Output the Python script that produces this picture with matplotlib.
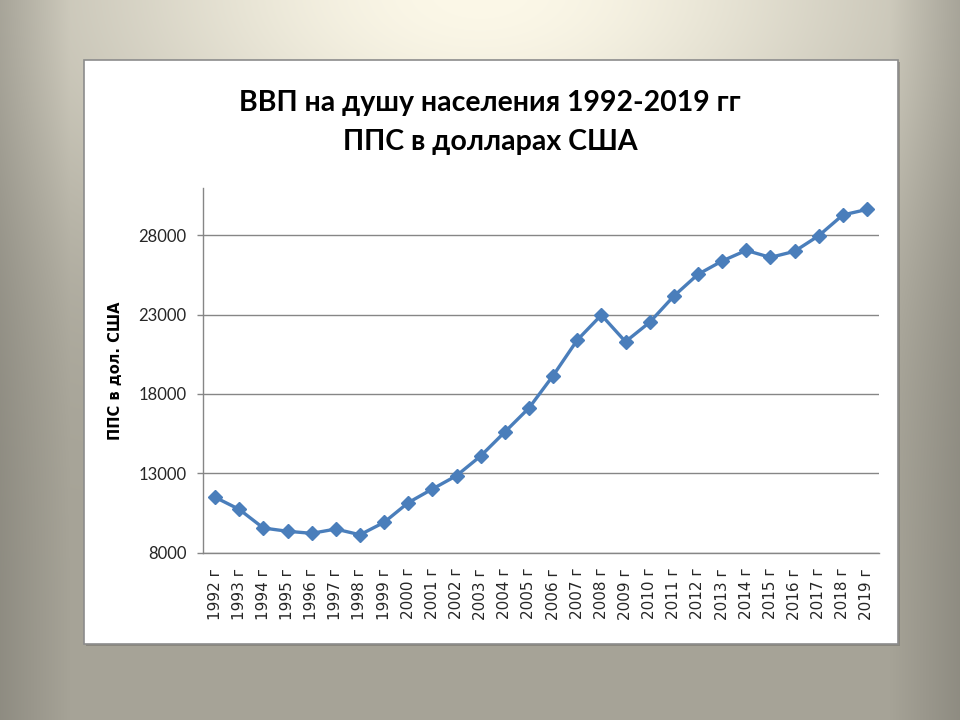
import numpy as np
import matplotlib
matplotlib.use('Agg')
import matplotlib.pyplot as plt
from matplotlib.patches import Rectangle

years = [f'{y} г' for y in range(1992, 2020)]
gdp = [11490, 10730, 9555, 9350, 9220, 9490, 9130, 9910, 11150, 12010,
       12850, 14090, 15600, 17110, 19150, 21390, 22970, 21290, 22510, 24160,
       25530, 26370, 27040, 26600, 26980, 27960, 29270, 29620]
yticks = [8000, 13000, 18000, 23000, 28000]

W, H = 960, 720
fig = plt.figure(figsize=(W / 100, H / 100), dpi=100)

# slide background: light spot at top centre, grey elsewhere, darker edges
yy, xx = np.mgrid[0:H, 0:W]
t = np.sqrt(((xx - 480) / 460.0) ** 2 + ((yy + 10) / 260.0) ** 2)
w = np.exp(-t ** 2)
light = np.array([252, 248, 232]) / 255
grey = np.array([166, 163, 151]) / 255
img = grey[None, None, :] * (1 - w[..., None]) + light[None, None, :] * w[..., None]
edge = np.clip(np.minimum(xx, W - 1 - xx) / 70.0, 0, 1)
shade = 0.86 + 0.14 * edge
img = img * shade[..., None]
bg = fig.add_axes([0, 0, 1, 1], zorder=-10)
bg.imshow(img, aspect='auto', extent=[0, 1, 0, 1], origin='upper')
bg.axis('off')

# white chart panel
px0, px1, py0, py1 = 84, 898, 60, 644
fig.patches.append(Rectangle((px0 / W + 0.002, 1 - py1 / H - 0.003), (px1 - px0) / W, (py1 - py0) / H,
                             transform=fig.transFigure, facecolor='#6f6d66', edgecolor='none',
                             alpha=0.5, zorder=-5))
fig.patches.append(Rectangle((px0 / W, 1 - py1 / H), (px1 - px0) / W, (py1 - py0) / H,
                             transform=fig.transFigure, facecolor='white', edgecolor='#8c8c8c',
                             linewidth=1.2, zorder=-4))

ax = fig.add_axes([203 / W, 1 - 552.7 / H, (879 - 203) / W, (552.7 - 188) / H])
ax.set_facecolor('none')
x = np.arange(len(years))
ax.plot(x, gdp, color='#4a7ebb', linewidth=2.4, marker='D', markersize=7.5,
        markerfacecolor='#4a7ebb', markeredgecolor='#4a7ebb', zorder=3)

ax.set_xlim(-0.5, len(years) - 0.5)
ax.set_ylim(8000, 30970)
ax.set_yticks(yticks)
ax.set_yticklabels([str(v) for v in yticks], fontfamily='Lato', fontsize=12, color='#262626')
ax.set_xticks(x)
ax.set_xticklabels(years, rotation=90, fontfamily='DejaVu Sans', fontsize=11, color='#262626')
ax.tick_params(axis='x', length=0, pad=11)
ax.tick_params(axis='y', length=4, width=1, color='#868686', pad=8)
ax.grid(axis='y', color='#868686', linewidth=1)
ax.set_axisbelow(True)
for s in ['top', 'right']:
    ax.spines[s].set_visible(False)
for s in ['left', 'bottom']:
    ax.spines[s].set_color('#868686')
    ax.spines[s].set_linewidth(1)

ax.set_ylabel('ППС в дол. США', fontfamily='DejaVu Sans', fontweight='bold', fontsize=10.5,
              color='black', labelpad=11)

fig.text(490 / W, 1 - 103 / H, 'ВВП на душу населения 1992-2019 гг', ha='center', va='center',
         fontfamily='Lato', fontweight='bold', fontsize=20.5, color='black')
fig.text(490 / W, 1 - 142 / H, 'ППС в долларах США', ha='center', va='center',
         fontfamily='Lato', fontweight='bold', fontsize=20.5, color='black')

fig.savefig('out.png', dpi=100)
